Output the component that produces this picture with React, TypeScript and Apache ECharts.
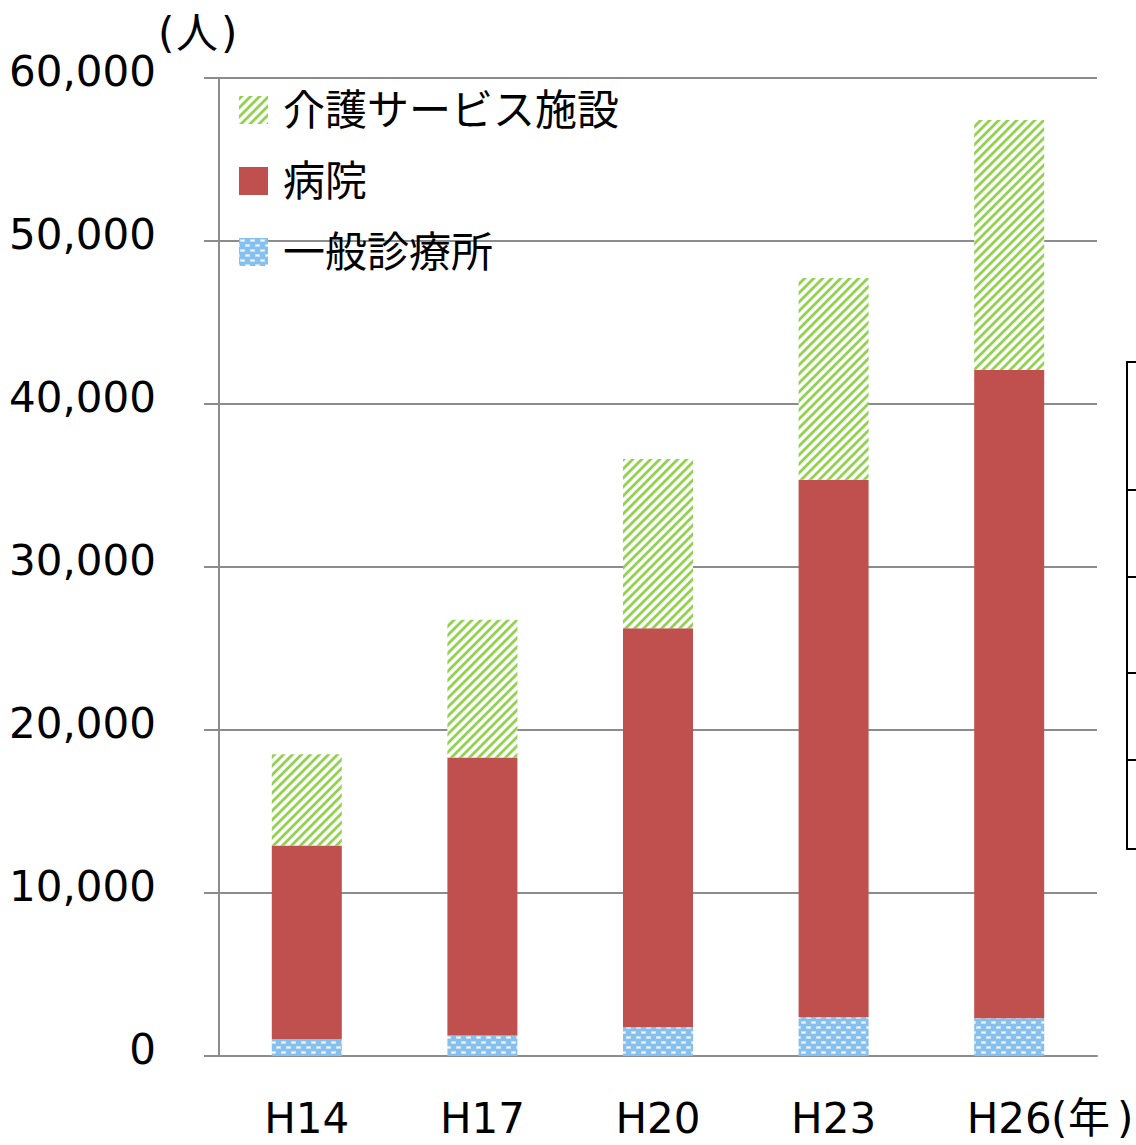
import React, { useEffect, useRef } from 'react';
import * as echarts from 'echarts';

const categories = ['H14', 'H17', 'H20', 'H23', 'H26'];
const clinic = [1050, 1260, 1770, 2380, 2320];
const hospital = [11870, 17060, 24470, 32980, 39760];
const care = [5590, 8450, 10380, 12370, 15350];
const seriesNames = ['一般診療所', '病院', '介護サービス施設'];
const legendOrder = ['介護サービス施設', '病院', '一般診療所'];
const yMax = 60000;
const yStep = 10000;

const FONT = '"DejaVu Sans", "Noto Sans CJK JP", sans-serif';

function stripePattern(): string {
  const s = 9;
  const c = document.createElement('canvas');
  c.width = s;
  c.height = s;
  const ctx = c.getContext('2d')!;
  const img = ctx.createImageData(s, s);
  const g = [146, 210, 80];
  for (let y = 0; y < s; y++) {
    for (let x = 0; x < s; x++) {
      const d = (x + y) % s;
      const t = d >= 1 && d <= 3 ? 1 : d === 0 || d === 4 ? 0.5 : 0;
      const i = (y * s + x) * 4;
      img.data[i] = Math.round(255 + (g[0] - 255) * t);
      img.data[i + 1] = Math.round(255 + (g[1] - 255) * t);
      img.data[i + 2] = Math.round(255 + (g[2] - 255) * t);
      img.data[i + 3] = 255;
    }
  }
  ctx.putImageData(img, 0, 0);
  return c.toDataURL();
}

function dotPattern(): string {
  const w = 10;
  const h = 10;
  const c = document.createElement('canvas');
  c.width = w;
  c.height = h;
  const ctx = c.getContext('2d')!;
  ctx.fillStyle = '#86c0ef';
  ctx.fillRect(0, 0, w, h);
  ctx.fillStyle = 'rgba(255,255,255,0.5)';
  ctx.fillRect(1, 1, 5, 3);
  ctx.fillRect(6, 6, 4, 3);
  ctx.fillRect(0, 6, 1, 3);
  ctx.fillStyle = 'rgba(255,255,255,0.95)';
  ctx.fillRect(2, 2, 3, 1);
  ctx.fillRect(7, 7, 3, 1);
  return c.toDataURL();
}

export default function App() {
  const ref = useRef<HTMLDivElement>(null);
  useEffect(() => {
    document.body.style.margin = '0';
    const chart = echarts.init(ref.current!, null, { renderer: 'svg' });
    const stripe = { image: stripePattern(), repeat: 'repeat', imageWidth: 9, imageHeight: 9 };
    const dots = { image: dotPattern(), repeat: 'repeat', imageWidth: 10, imageHeight: 10 };
    const colors: any[] = [dots, '#c0504d', stripe];
    const data = [clinic, hospital, care];
    const gray = '#8c8c8c';
    const unitStyle = { fontSize: 42, fontFamily: FONT, fill: '#000' };
    chart.setOption({
      animation: false,
      grid: { left: 219, right: 39, top: 78, bottom: 89, containLabel: false },
      legend: {
        orient: 'vertical',
        left: 239,
        top: 89,
        padding: 0,
        itemWidth: 29,
        itemHeight: 28,
        itemGap: 29,
        icon: 'rect',
        data: legendOrder,
        textStyle: { fontSize: 42, fontFamily: FONT, color: '#000', lineHeight: 42, padding: [0, 0, 0, 10] },
      },
      xAxis: {
        type: 'category',
        data: categories,
        axisLine: { lineStyle: { color: gray, width: 2 } },
        axisTick: { show: false },
        axisLabel: { fontSize: 42, fontFamily: FONT, color: '#000', margin: 41 },
      },
      yAxis: {
        type: 'value',
        min: 0,
        max: yMax,
        interval: yStep,
        axisLine: { show: true, lineStyle: { color: gray, width: 2 } },
        axisTick: { show: true, length: 15, lineStyle: { color: gray, width: 2 } },
        splitLine: { lineStyle: { color: gray, width: 2 } },
        axisLabel: {
          fontSize: 42,
          fontFamily: FONT,
          color: '#000',
          margin: 63,
          verticalAlign: 'bottom',
          lineHeight: 14,
          formatter: (v: number) => v.toLocaleString('en-US'),
        },
      },
      series: seriesNames.map((name, i) => ({
        name,
        type: 'bar',
        stack: 'total',
        barWidth: 70,
        data: data[i],
        itemStyle: { color: colors[i] },
      })),
      graphic: [
        { type: 'text', x: 158, y: 33, style: { ...unitStyle, text: '(', verticalAlign: 'middle' } },
        { type: 'text', x: 176, y: 33, style: { ...unitStyle, text: '人', verticalAlign: 'middle' } },
        { type: 'text', x: 221, y: 33, style: { ...unitStyle, text: ')', verticalAlign: 'middle' } },
        { type: 'text', x: 1051, y: 1118, style: { ...unitStyle, text: '(', verticalAlign: 'middle' } },
        { type: 'text', x: 1068, y: 1118, style: { ...unitStyle, text: '年', verticalAlign: 'middle' } },
        { type: 'text', x: 1117, y: 1118, style: { ...unitStyle, text: ')', verticalAlign: 'middle' } },
        { type: 'line', shape: { x1: 1127, y1: 362, x2: 1127, y2: 849 }, style: { stroke: '#000', lineWidth: 2 } },
        ...[362, 490, 577, 673, 760, 849].map((y) => ({
          type: 'line',
          shape: { x1: 1126, y1: y, x2: 1136, y2: y },
          style: { stroke: '#000', lineWidth: 2 },
        })),
      ],
    });
    return () => chart.dispose();
  }, []);
  return <div ref={ref} style={{ position: 'absolute', left: 0, top: 0, width: 1136, height: 1145 }} />;
}
